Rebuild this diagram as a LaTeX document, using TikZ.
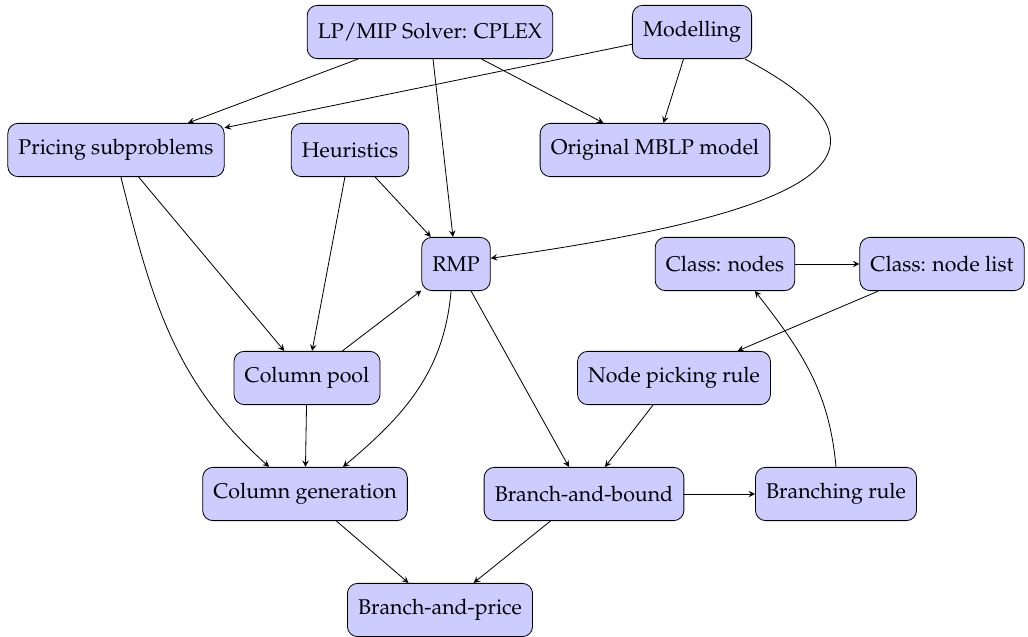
\documentclass[tikz,border=0pt]{standalone}
\usepackage[T1]{fontenc}
\usepackage{mathpazo}
\usetikzlibrary{arrows}
\tikzset{
  block/.style={draw, fill=blue!20, rounded corners=5pt, minimum height=26pt,
    inner xsep=5.2pt, font=\fontsize{10.4}{12}\selectfont},
  link/.style={-stealth, thin}
}
\begin{document}
\begin{tikzpicture}[x=0.4878pt, y=-0.4878pt]
\useasboundingbox (0,0) rectangle (1028,637);
% first row
\node[block] (cplex) at (430,32) {LP/MIP Solver: CPLEX};
\node[block] (model) at (692,32) {Modelling};
% second row
\node[block] (pricing) at (116,150) {Pricing subproblems};
\node[block] (heur) at (350,150) {Heuristics};
\node[block] (orig) at (655,150) {Original MBLP model};
% third row
\node[block] (rmp) at (456,264) {RMP};
\node[block] (cnodes) at (725,264) {Class: nodes};
\node[block] (clist) at (942,264) {Class: node list};
% fourth row
\node[block] (pool) at (307,378) {Column pool};
\node[block] (pick) at (674,378) {Node picking rule};
% fifth row
\node[block] (colgen) at (305,494) {Column generation};
\node[block] (bnb) at (584,494) {Branch-and-bound};
\node[block] (brule) at (836,494) {Branching rule};
% bottom
\node[block] (bnp) at (440,610) {Branch-and-price};

% end points of the curved connectors
\coordinate (mstart) at ([xshift=-3.4pt]model.south east);
\coordinate (rmpin) at ([yshift=2.8pt]rmp.east);
\coordinate (pstart) at ([xshift=2.4pt]pricing.south);
\coordinate (cgleft) at ([xshift=-17.5pt]colgen.north);
\coordinate (cgright) at ([xshift=18.5pt]colgen.north);
\coordinate (rmpout) at ([xshift=-2.4pt]rmp.south);
\coordinate (cnin) at ([xshift=14.6pt]cnodes.south);

% connectors
\draw[link] (cplex) -- (pricing);
\draw[link] (model) -- (pricing);
\draw[link] (cplex) -- (rmp);
\draw[link] (cplex) -- (orig);
\draw[link] (model) -- (orig);
\draw[link] (mstart) to[out=-28, in=8, out looseness=1.7, in looseness=2.4] (rmpin);
\draw[link] (pricing) -- (pool);
\draw[link] (pstart) to[out=-76, in=138] (cgleft);
\draw[link] (heur) -- (pool);
\draw[link] (heur) -- (rmp);
\draw[link] (pool) -- (rmp);
\draw[link] (pool) -- (colgen);
\draw[link] (rmpout) to[out=-95, in=40] (cgright);
\draw[link] (rmp) -- (bnb);
\draw[link] (colgen) -- (bnp);
\draw[link] (bnb) -- (bnp);
\draw[link] (bnb) -- (brule);
\draw[link] (pick) -- (bnb);
\draw[link] (brule.north) to[out=95, in=-52] (cnin);
\draw[link] (cnodes) -- (clist);
\draw[link] (clist) -- (pick);
\end{tikzpicture}
\end{document}
